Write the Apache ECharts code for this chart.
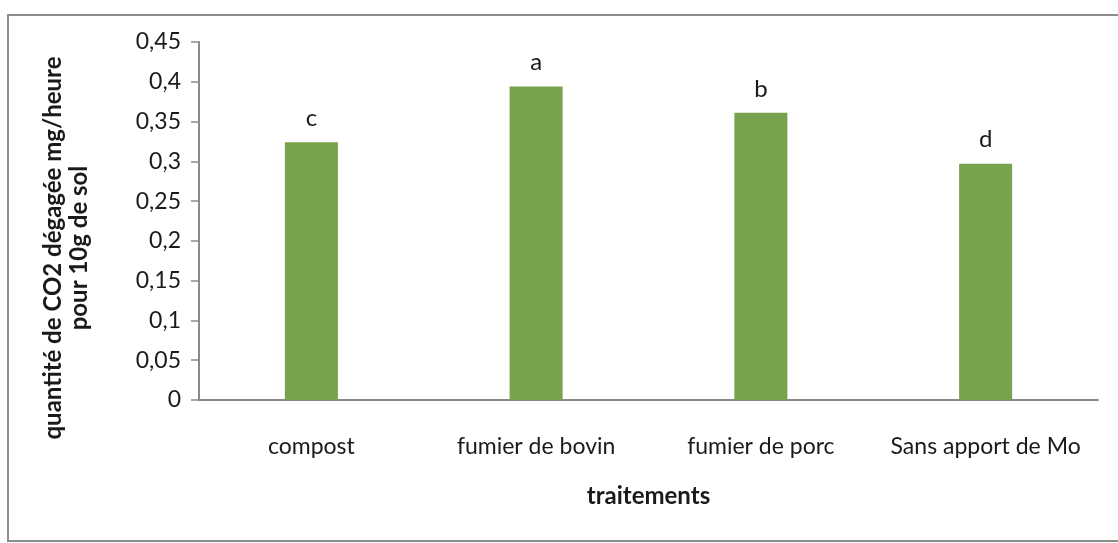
<!DOCTYPE html>
<html>
<head>
<meta charset="utf-8">
<script src="https://cdn.jsdelivr.net/npm/echarts@6/dist/echarts.min.js"></script>
<style>
  html, body { margin: 0; padding: 0; background: #fff; }
  #chart { width: 1118px; height: 543px; }
</style>
</head>
<body>
<div id="chart"></div>
<script>
const categories = ['compost', 'fumier de bovin', 'fumier de porc', 'Sans apport de Mo'];
const values = [0.324, 0.394, 0.361, 0.297];
const letters = ['c', 'a', 'b', 'd'];
const yTicks = { min: 0, max: 0.45, interval: 0.05 };
const xName = 'traitements';
const yNameLines = ['quantité de CO2 dégagée mg/heure', 'pour 10g de sol'];

const FONT = 'Lato, "Open Sans", sans-serif';
const chart = echarts.init(document.getElementById('chart'), null, { renderer: 'canvas' });

chart.setOption({
  backgroundColor: '#ffffff',
  animation: false,
  grid: { left: 199, top: 42, right: 20, bottom: 143, containLabel: false },
  graphic: [
    {
      type: 'rect', silent: true, z: -1,
      shape: { x: 8, y: 15, width: 1130, height: 526 },
      style: { fill: 'none', stroke: '#8c8c8c', lineWidth: 2 }
    },
    {
      type: 'text', silent: true,
      x: 66, y: 248, rotation: Math.PI / 2,
      style: {
        text: yNameLines.join('\n'),
        fill: '#1a1a1a',
        font: 'bold 24px ' + FONT,
        align: 'center', verticalAlign: 'middle',
        lineHeight: 26
      }
    }
  ],
  xAxis: {
    type: 'category',
    data: categories,
    name: xName,
    nameLocation: 'middle',
    nameGap: 84,
    nameTextStyle: { fontFamily: FONT, fontWeight: 'bold', fontSize: 24, color: '#1a1a1a' },
    axisLine: { lineStyle: { color: '#8a8a8a', width: 2 } },
    axisTick: { show: false },
    axisLabel: { interval: 0, margin: 35, fontFamily: FONT, fontSize: 23, color: '#1a1a1a' }
  },
  yAxis: {
    type: 'value',
    min: yTicks.min, max: yTicks.max, interval: yTicks.interval,
    axisLine: { show: true, lineStyle: { color: '#8a8a8a', width: 2 } },
    axisTick: { show: true, length: 8, lineStyle: { color: '#8a8a8a', width: 1.5 } },
    splitLine: { show: false },
    axisLabel: {
      margin: 18, fontFamily: FONT, fontSize: 23, color: '#1a1a1a',
      formatter: v => String(Number(v.toFixed(2))).replace('.', ',')
    }
  },
  series: [{
    type: 'bar',
    data: values,
    barWidth: '23.6%',
    itemStyle: { color: '#78a24c' },
    label: {
      show: true, position: 'top', distance: 12,
      fontFamily: FONT, fontSize: 24, color: '#1a1a1a',
      formatter: p => letters[p.dataIndex]
    }
  }]
});
</script>
</body>
</html>
